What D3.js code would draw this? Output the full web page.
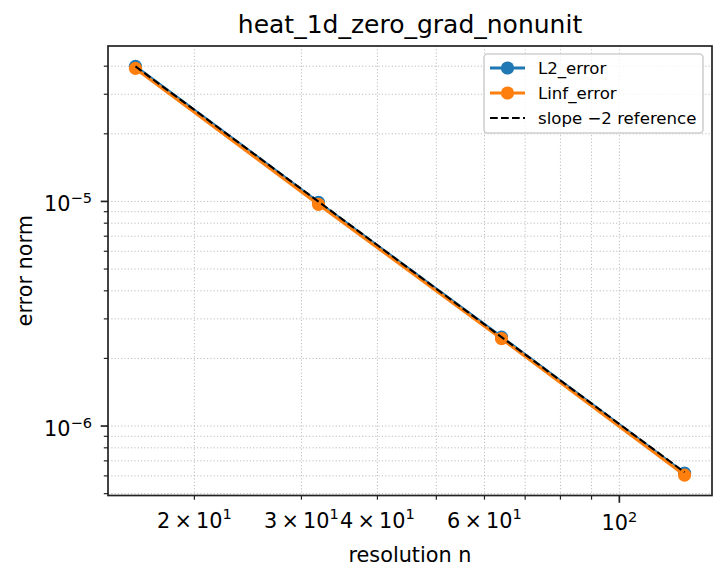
<!DOCTYPE html>
<html>
<head>
<meta charset="utf-8">
<script src="https://cdn.jsdelivr.net/npm/d3@7"></script>
<style>
  body { margin: 0; background: #fff; }
  text { font-family: "DejaVu Sans", sans-serif; fill: #000; }
</style>
</head>
<body>
<svg id="chart" width="727" height="580"></svg>
<script>
// values
const resolutions = [16, 32, 64, 128];
const l2Error = [3.99e-5, 9.9e-6, 2.49e-6, 6.17e-7];
const linfError = [3.91e-5, 9.7e-6, 2.45e-6, 6.05e-7];
const refSlope2 = [3.99e-5, 9.98e-6, 2.49e-6, 6.23e-7];

const xMinorLabels = {20: "2", 30: "3", 40: "4", 60: "6"};
const xMajorTicks = [100];
const yMajorTicks = [1e-5, 1e-6];

const svg = d3.select("#chart");
const plotLeft = 108, plotRight = 712, plotTop = 46, plotBottom = 495.5;

// matplotlib style 5% margin in log space
function logDomain(vals) {
    const lo = Math.log10(d3.min(vals)), hi = Math.log10(d3.max(vals));
    const m = (hi - lo) * 0.05;
    return [Math.pow(10, lo - m), Math.pow(10, hi + m)];
}

const x = d3.scaleLog()
    .domain(logDomain(resolutions))
    .range([plotLeft, plotRight]);
const y = d3.scaleLog()
    .domain(logDomain(l2Error.concat(linfError, refSlope2)))
    .range([plotBottom, plotTop]);

// minor ticks: k * 10^e inside domain
function logTicks(scale) {
    const [d0, d1] = scale.domain();
    const out = [];
    for (let e = Math.floor(Math.log10(d0)); e <= Math.ceil(Math.log10(d1)); e++) {
        for (let k = 1; k <= 9; k++) {
            const v = k * Math.pow(10, e);
            if (v >= d0 * 0.9999 && v <= d1 * 1.0001) out.push({v: v, major: k === 1});
        }
    }
    return out;
}
const xTicks = logTicks(x);
const yTicks = logTicks(y);

// grid, both major and minor
const grid = svg.append("g")
    .attr("stroke", "#b0b0b0")
    .attr("stroke-width", 0.9)
    .attr("stroke-dasharray", "1.1,2.2");
grid.selectAll(".gx").data(xTicks).enter().append("line")
    .attr("x1", d => x(d.v)).attr("x2", d => x(d.v))
    .attr("y1", plotTop).attr("y2", plotBottom);
grid.selectAll(".gy").data(yTicks).enter().append("line")
    .attr("x1", plotLeft).attr("x2", plotRight)
    .attr("y1", d => y(d.v)).attr("y2", d => y(d.v));

// series
const line = d3.line()
    .x((d, i) => x(resolutions[i]))
    .y(d => y(d));

function series(vals, color) {
    svg.append("path")
        .datum(vals)
        .attr("fill", "none")
        .attr("stroke", color)
        .attr("stroke-width", 3.1)
        .attr("d", line);
    svg.selectAll(null)
        .data(vals)
      .enter().append("circle")
        .attr("cx", (d, i) => x(resolutions[i]))
        .attr("cy", d => y(d))
        .attr("r", 6.6)
        .attr("fill", color);
}
series(l2Error, "#1f77b4");
series(linfError, "#ff7f0e");

svg.append("path")
    .datum(refSlope2)
    .attr("fill", "none")
    .attr("stroke", "#000")
    .attr("stroke-width", 2.1)
    .attr("stroke-dasharray", "7.7,3.3")
    .attr("d", line);

// spines
svg.append("rect")
    .attr("x", plotLeft).attr("y", plotTop)
    .attr("width", plotRight - plotLeft).attr("height", plotBottom - plotTop)
    .attr("fill", "none")
    .attr("stroke", "#222")
    .attr("stroke-width", 1.7);

// tick marks
const ticks = svg.append("g").attr("stroke", "#222");
ticks.selectAll(".tx").data(xTicks).enter().append("line")
    .attr("x1", d => x(d.v)).attr("x2", d => x(d.v))
    .attr("y1", plotBottom).attr("y2", d => plotBottom + (d.major ? 7.3 : 4.2))
    .attr("stroke-width", d => d.major ? 1.7 : 1.2);
ticks.selectAll(".ty").data(yTicks).enter().append("line")
    .attr("y1", d => y(d.v)).attr("y2", d => y(d.v))
    .attr("x1", plotLeft).attr("x2", d => plotLeft - (d.major ? 7.3 : 4.2))
    .attr("stroke-width", d => d.major ? 1.7 : 1.2);

// x tick labels
const fs = 20.8, sup = 14.6;
Object.keys(xMinorLabels).forEach(function(k) {
    const t = svg.append("text")
        .attr("x", x(+k)).attr("y", 527.5)
        .attr("text-anchor", "middle")
        .attr("font-size", fs);
    t.append("tspan").text(xMinorLabels[k] + "\u2009\u00d7\u200910");
    t.append("tspan").attr("font-size", sup).attr("dy", -9).text("1");
});
xMajorTicks.forEach(function(v) {
    const t = svg.append("text")
        .attr("x", x(v)).attr("y", 530)
        .attr("text-anchor", "middle")
        .attr("font-size", fs);
    t.append("tspan").text("10");
    t.append("tspan").attr("font-size", sup).attr("dy", -8.5).text(Math.round(Math.log10(v)));
});

// y tick labels
yMajorTicks.forEach(function(v) {
    const t = svg.append("text")
        .attr("x", 92).attr("y", y(v) + 10)
        .attr("text-anchor", "end")
        .attr("font-size", fs);
    t.append("tspan").text("10");
    t.append("tspan").attr("font-size", sup).attr("dy", -8.5)
        .text("\u2212" + Math.abs(Math.round(Math.log10(v))));
});

// labels and title
svg.append("text")
    .attr("x", (plotLeft + plotRight) / 2).attr("y", 33)
    .attr("text-anchor", "middle")
    .attr("font-size", 25)
    .text("heat_1d_zero_grad_nonunit");
svg.append("text")
    .attr("x", (plotLeft + plotRight) / 2).attr("y", 562)
    .attr("text-anchor", "middle")
    .attr("font-size", fs)
    .text("resolution n");
svg.append("text")
    .attr("transform", "translate(32," + (plotTop + plotBottom) / 2 + ") rotate(-90)")
    .attr("text-anchor", "middle")
    .attr("font-size", fs)
    .text("error norm");

// legend
const legendItems = [
    {name: "L2_error", color: "#1f77b4", marker: true},
    {name: "Linf_error", color: "#ff7f0e", marker: true},
    {name: "slope \u22122 reference", color: "#000", marker: false}
];
const lg = svg.append("g");
lg.append("rect")
    .attr("x", 484).attr("y", 54)
    .attr("width", 219).attr("height", 79)
    .attr("rx", 3.5)
    .attr("fill", "#fff").attr("fill-opacity", 0.8)
    .attr("stroke", "#d0d0d0").attr("stroke-width", 1.6);
legendItems.forEach(function(d, i) {
    const cy = 68 + i * 25;
    lg.append("line")
        .attr("x1", 490).attr("x2", 525)
        .attr("y1", cy).attr("y2", cy)
        .attr("stroke", d.color)
        .attr("stroke-width", d.marker ? 3.1 : 2.1)
        .attr("stroke-dasharray", d.marker ? null : "7.7,3.3");
    if (d.marker) {
        lg.append("circle")
            .attr("cx", 507.5).attr("cy", cy).attr("r", 6.6)
            .attr("fill", d.color);
    }
    lg.append("text")
        .attr("x", 538).attr("y", cy + 6)
        .attr("font-size", 16.6)
        .text(d.name);
});
</script>
</body>
</html>
